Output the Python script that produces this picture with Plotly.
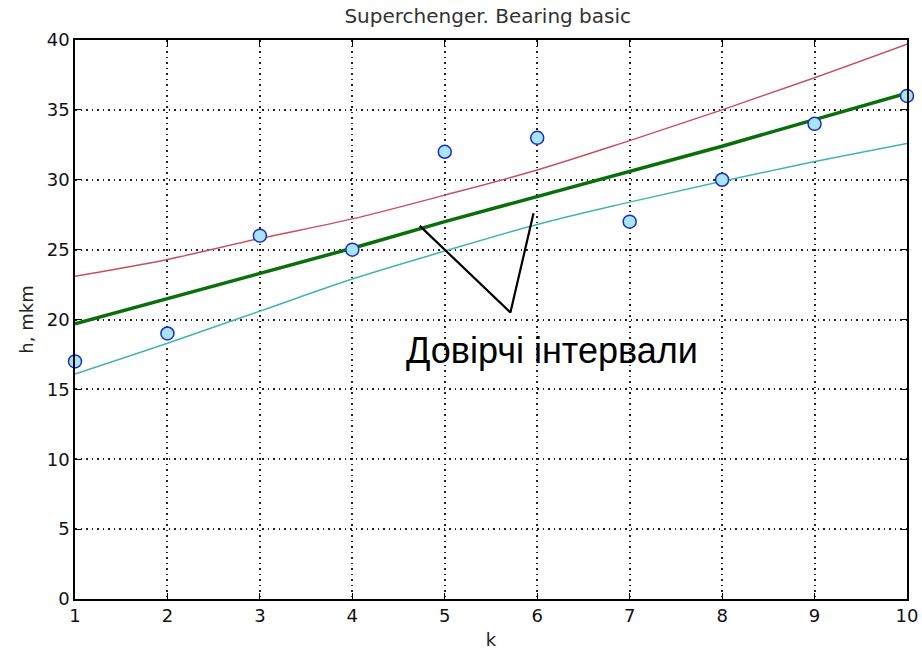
import plotly.graph_objects as go

k = [1, 2, 3, 4, 5, 6, 7, 8, 9, 10]
h_measured = [17, 19, 26, 25, 32, 33, 27, 30, 34, 36]
h_fit = [19.7, 21.5, 23.3, 25.1, 27.0, 28.8, 30.6, 32.4, 34.3, 36.2]
h_upper = [23.1, 24.3, 25.8, 27.2, 28.9, 30.7, 32.8, 35.0, 37.3, 39.7]
h_lower = [16.1, 18.3, 20.6, 22.9, 24.9, 26.8, 28.4, 29.9, 31.3, 32.6]

callout_x = [4.73, 5.71, 5.96]
callout_y = [26.7, 20.5, 27.6]
callout_text = "Довірчі інтервали"
callout_pos = (6.16, 17.8)

x_ticks = list(range(1, 11))
y_ticks = list(range(0, 41, 5))

fig = go.Figure()
fig.add_trace(go.Scatter(x=k, y=h_upper, mode="lines", line=dict(color="#c8505e", width=1.5, shape="spline"), showlegend=False))
fig.add_trace(go.Scatter(x=k, y=h_lower, mode="lines", line=dict(color="#40b4b4", width=1.5, shape="spline"), showlegend=False))
fig.add_trace(go.Scatter(x=k, y=h_fit, mode="lines", line=dict(color="#0a6e0a", width=3.5), showlegend=False))
fig.add_trace(go.Scatter(x=k, y=h_measured, mode="markers",
                         marker=dict(symbol="circle", size=13, color="#a8e4f4", line=dict(color="#1a2fc0", width=1.5)),
                         showlegend=False, cliponaxis=False))
fig.add_trace(go.Scatter(x=callout_x, y=callout_y, mode="lines", line=dict(color="black", width=2.2),
                         showlegend=False, hoverinfo="skip"))

fig.add_annotation(x=callout_pos[0], y=callout_pos[1], text=callout_text, showarrow=False,
                   font=dict(family="Liberation Sans, Arial", size=36, color="black"), xanchor="center", yanchor="middle")

axis_common = dict(showline=True, linecolor="black", linewidth=1.5, mirror="ticks", ticks="inside", ticklen=6,
                   tickcolor="black", showgrid=True, gridcolor="#222", griddash="1.5px,4px", gridwidth=1.5,
                   zeroline=False, automargin=False,
                   tickfont=dict(family="DejaVu Sans", size=18, color="#111"))

fig.update_xaxes(range=[1, 10], tickvals=x_ticks,
                 title=dict(text="k", font=dict(family="DejaVu Sans", size=18, color="#222"), standoff=8),
                 **axis_common)
fig.update_yaxes(range=[0, 40], tickvals=y_ticks,
                 title=dict(text="h, mkm", font=dict(family="DejaVu Sans", size=18, color="#222"), standoff=8),
                 **axis_common)

fig.update_layout(
    width=922, height=654,
    margin=dict(l=75, r=15, t=40, b=55),
    plot_bgcolor="white", paper_bgcolor="white",
    font=dict(family="DejaVu Sans", color="black"),
    title=dict(text="Superchenger. Bearing basic", x=0.529, xanchor="center", y=0.975, yanchor="middle",
               font=dict(family="DejaVu Sans", size=20, color="#333"), automargin=False),
)

fig.write_html("out.html", config={"displayModeBar": False},
               post_script="document.body.style.margin='0';document.body.style.overflow='hidden';")
